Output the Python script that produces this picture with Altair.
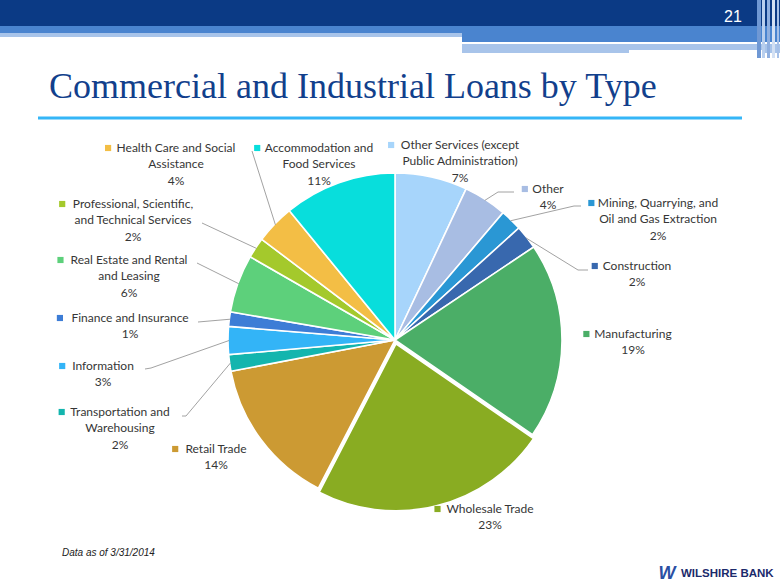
import math
import altair as alt
import pandas as pd

# ---------------- data ----------------
categories = [
    "Other Services (except Public Administration)",
    "Other",
    "Mining, Quarrying, and Oil and Gas Extraction",
    "Construction",
    "Manufacturing",
    "Wholesale Trade",
    "Retail Trade",
    "Transportation and Warehousing",
    "Information",
    "Finance and Insurance",
    "Real Estate and Rental and Leasing",
    "Professional, Scientific, and Technical Services",
    "Health Care and Social Assistance",
    "Accommodation and Food Services",
]
shares = [7.0, 4.2, 2.1, 2.3, 19.0, 23.0, 14.4, 1.6, 2.7, 1.4, 5.6, 2.0, 3.8, 10.9]
label_lines = [
    ["Other Services (except", "Public Administration)"],
    ["Other"],
    ["Mining, Quarrying, and", "Oil and Gas Extraction"],
    ["Construction"],
    ["Manufacturing"],
    ["Wholesale Trade"],
    ["Retail Trade"],
    ["Transportation and", "Warehousing"],
    ["Information"],
    ["Finance and Insurance"],
    ["Real Estate and Rental", "and Leasing"],
    ["Professional, Scientific,", "and Technical Services"],
    ["Health Care and Social", "Assistance"],
    ["Accommodation and", "Food Services"],
]
title_text = "Commercial and Industrial Loans by Type"
page_number = "21"
note_text = "Data as of 3/31/2014"
bank_name = "WILSHIRE BANK"

# ---------------- styles / layout ----------------
colors = ["#A7D5FB", "#A8BDE3", "#2A97D4", "#3868AE", "#4BAE67", "#89AC22", "#CC9A33",
          "#13B5AE", "#33B4F7", "#3D7DD6", "#5DD07B", "#A4C92C", "#F3BE45", "#08DEDC"]
W, H = 780, 585
CX, CY, R = 395, 340, 167
EXPLODE = {"Wholesale Trade": 4}
LABEL_FONT = "Lato"
LABEL_SIZE = 12
LINE_H = 16.3
# first-line centre of each data label
LABEL_ANCHOR = [(460, 145), (548, 189), (658, 203), (637, 266), (633, 334), (490, 509),
                (216, 449), (120, 412), (103, 366), (130, 318), (129, 260), (133, 204),
                (176, 148), (319, 148)]
# label-side points of leader lines (slice-side point is computed)
LEADER_START = {
    1: [(514, 192), (498, 192)],
    2: [(581, 206), (574, 206)],
    3: [(588, 270), (578, 270)],
    7: [(182, 416), (186, 416)],
    8: [(145, 369), (151, 368)],
    9: [(198, 322)],
    10: [(197, 263)],
    11: [(202, 223)],
    12: [(252, 151)],
}


def text_width(s, size):
    w = 0.0
    for ch in s:
        if ch in "il.,;:'|!":
            w += 0.24
        elif ch in "fjrt()":
            w += 0.34
        elif ch == " ":
            w += 0.26
        elif ch in "mw":
            w += 0.80
        elif ch in "MW%":
            w += 0.85
        elif ch.isupper():
            w += 0.64
        elif ch.isdigit():
            w += 0.58
        else:
            w += 0.52
    return w * size


total = sum(shares)
pie_rows, text_rows, sq_rows, lead_rows = [], [], [], []
cum = 0.0
for i, (cat, v) in enumerate(zip(categories, shares)):
    t0 = cum / total * 100
    cum += v
    t1 = cum / total * 100
    mid = (t0 + t1) / 2 / 100 * 2 * math.pi
    e = EXPLODE.get(cat, 0)
    pie_rows.append(dict(cat=cat, value=v, t0=t0, t1=t1,
                         cx=CX + e * math.sin(mid), cy=CY - e * math.cos(mid)))
    ax, ay = LABEL_ANCHOR[i]
    lines = label_lines[i] + [f"{round(v / total * 100)}%"]
    for j, ln in enumerate(lines):
        text_rows.append(dict(cat=cat, x=ax, y=ay + j * LINE_H, t=ln))
    sq_rows.append(dict(cat=cat, x=ax - text_width(lines[0], LABEL_SIZE) / 2 - 9, y=ay))
    if i in LEADER_START:
        pts = LEADER_START[i] + [(CX + (R - 1) * math.sin(mid), CY - (R - 1) * math.cos(mid))]
        for k, (px, py) in enumerate(pts):
            lead_rows.append(dict(lid=i, k=k, x=px, y=py))

pie_df = pd.DataFrame(pie_rows)
text_df = pd.DataFrame(text_rows)
sq_df = pd.DataFrame(sq_rows)
lead_df = pd.DataFrame(lead_rows)

color_scale = alt.Scale(domain=categories, range=colors)
X = lambda f: alt.X(f, scale=None, axis=None)
Y = lambda f: alt.Y(f, scale=None, axis=None)

# ---------------- slide decoration ----------------
decor = pd.DataFrame([
    dict(x=0, x2=780, y=0, y2=26, c="#0B3A85"),
    dict(x=0, x2=780, y=26, y2=33, c="#4A84CF"),
    dict(x=0, x2=462, y=33, y2=37, c="#A8C4EA"),
    dict(x=462, x2=780, y=33, y2=42, c="#4A84CF"),
    dict(x=462, x2=780, y=44, y2=53, c="#A8C4EA"),
    dict(x=629, x2=765, y=50, y2=53, c="#FFFFFF"),
    dict(x=757, x2=761, y=0, y2=58, c="#6F98D4"),
    dict(x=762, x2=765, y=0, y2=58, c="#B9CFEE"),
    dict(x=767, x2=770, y=0, y2=58, c="#8FAFE0"),
    dict(x=772, x2=775, y=0, y2=58, c="#D3E0F3"),
    dict(x=777, x2=779, y=0, y2=58, c="#A6C0E8"),
    dict(x=38, x2=742, y=116.5, y2=119.5, c="#35B6F7"),
])
decor_layer = alt.Chart(decor).mark_rect().encode(
    x=X("x:Q"), x2="x2:Q", y=Y("y:Q"), y2="y2:Q",
    color=alt.Color("c:N", scale=None))

white_line = alt.Chart(pd.DataFrame([dict(x=462, x2=722, y=42.3, y2=43.7)])).mark_rect(
    color="#FFFFFF").encode(x=X("x:Q"), x2="x2:Q", y=Y("y:Q"), y2="y2:Q")

title = alt.Chart(pd.DataFrame([dict(x=49, y=98, t=title_text)])).mark_text(
    align="left", baseline="alphabetic", font="Liberation Serif", fontSize=36,
    color="#123F8C").encode(x=X("x:Q"), y=Y("y:Q"), text="t:N")

pnum = alt.Chart(pd.DataFrame([dict(x=733, y=17, t=page_number)])).mark_text(
    align="center", baseline="middle", font="Liberation Sans", fontSize=16,
    color="#FFFFFF").encode(x=X("x:Q"), y=Y("y:Q"), text="t:N")

note = alt.Chart(pd.DataFrame([dict(x=62, y=553, t=note_text)])).mark_text(
    align="left", baseline="middle", font="Liberation Sans Narrow, Liberation Sans",
    fontSize=10, fontStyle="italic", color="#222222").encode(
    x=X("x:Q"), y=Y("y:Q"), text="t:N")

logo_w = alt.Chart(pd.DataFrame([dict(x=667, y=574, t="W")])).mark_text(
    align="center", baseline="middle", font="Liberation Sans", fontSize=18,
    fontWeight="bold", fontStyle="italic", color="#2B4FA3").encode(
    x=X("x:Q"), y=Y("y:Q"), text="t:N")
logo_t = alt.Chart(pd.DataFrame([dict(x=681, y=574, t=bank_name)])).mark_text(
    align="left", baseline="middle", font="Liberation Sans", fontSize=11.5,
    fontWeight="bold", color="#1B2A6B").encode(
    x=X("x:Q"), y=Y("y:Q"), text="t:N")

# ---------------- pie ----------------
pie = alt.Chart(pie_df).mark_arc(outerRadius=R, stroke="white", strokeWidth=1.6).encode(
    x=X("cx:Q"), y=Y("cy:Q"),
    theta=alt.Theta("t0:Q", scale=alt.Scale(domain=[0, 100], range=[0, 2 * math.pi]), stack=None),
    theta2="t1:Q",
    color=alt.Color("cat:N", scale=color_scale, legend=None),
)

leaders = alt.Chart(lead_df).mark_line(color="#8A8A8A", strokeWidth=0.8).encode(
    x=X("x:Q"), y=Y("y:Q"), detail="lid:N", order="k:Q")

labels = alt.Chart(text_df).mark_text(
    align="center", baseline="middle", font=LABEL_FONT, fontSize=LABEL_SIZE,
    color="#363636").encode(x=X("x:Q"), y=Y("y:Q"), text="t:N")

squares = alt.Chart(sq_df).mark_square(size=38, opacity=1).encode(
    x=X("x:Q"), y=Y("y:Q"), color=alt.Color("cat:N", scale=color_scale, legend=None))

chart = alt.layer(
    decor_layer, white_line, title, pnum, pie, leaders, labels, squares, note, logo_w, logo_t
).properties(
    width=W, height=H, padding=0, autosize="none", background="white"
).configure_view(stroke=None)

chart.save("out.html", embed_options={"renderer": "svg", "actions": False})
